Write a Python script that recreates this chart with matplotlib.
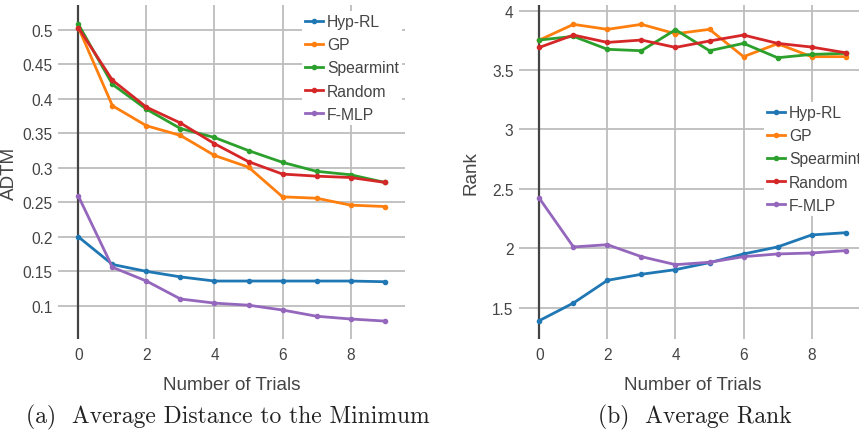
import matplotlib
matplotlib.use("Agg")
import matplotlib.pyplot as plt

trials = list(range(10))
series_names = ["Hyp-RL", "GP", "Spearmint", "Random", "F-MLP"]
colors = ["#1f77b4", "#ff7f0e", "#2ca02c", "#d62728", "#9467bd"]

adtm_hyprl = [0.200, 0.160, 0.150, 0.142, 0.136, 0.136, 0.136, 0.136, 0.136, 0.135]
adtm_gp = [0.503, 0.390, 0.361, 0.347, 0.318, 0.301, 0.258, 0.256, 0.246, 0.244]
adtm_spearmint = [0.508, 0.421, 0.385, 0.357, 0.344, 0.325, 0.308, 0.295, 0.290, 0.279]
adtm_random = [0.503, 0.427, 0.388, 0.365, 0.335, 0.309, 0.291, 0.288, 0.286, 0.279]
adtm_fmlp = [0.259, 0.156, 0.136, 0.110, 0.104, 0.101, 0.094, 0.085, 0.081, 0.078]

rank_hyprl = [1.391, 1.539, 1.730, 1.781, 1.820, 1.879, 1.952, 2.011, 2.112, 2.131]
rank_gp = [3.753, 3.885, 3.843, 3.885, 3.806, 3.843, 3.613, 3.722, 3.613, 3.613]
rank_spearmint = [3.753, 3.784, 3.675, 3.663, 3.840, 3.663, 3.725, 3.604, 3.632, 3.641]
rank_random = [3.691, 3.795, 3.733, 3.753, 3.691, 3.745, 3.795, 3.725, 3.694, 3.646]
rank_fmlp = [2.420, 2.011, 2.030, 1.929, 1.862, 1.882, 1.929, 1.952, 1.960, 1.980]

adtm_yticks = [0.1, 0.15, 0.2, 0.25, 0.3, 0.35, 0.4, 0.45, 0.5]
adtm_yticklabels = ["0.1", "0.15", "0.2", "0.25", "0.3", "0.35", "0.4", "0.45", "0.5"]
rank_yticks = [1.5, 2, 2.5, 3, 3.5, 4]
rank_yticklabels = ["1.5", "2", "2.5", "3", "3.5", "4"]
xticks = [0, 2, 4, 6, 8]

plt.rcParams['font.family'] = ['Liberation Sans', 'DejaVu Sans']
txt = "#444444"

W, H = 859, 431
fig = plt.figure(figsize=(W / 100, H / 100), dpi=100)

def make_ax(left_px, data, yticks, ylabels, ylim, ylabel):
    ax = fig.add_axes([left_px / W, (H - 340) / H, 347 / W, 334 / H])
    for s in ax.spines.values():
        s.set_visible(False)
    ax.set_xlim(-0.6, 9.6)
    ax.set_ylim(*ylim)
    ax.set_xticks(xticks)
    ax.set_yticks(yticks)
    ax.set_yticklabels(ylabels)
    ax.tick_params(axis='y', length=0, labelsize=11.2, colors=txt, pad=4)
    ax.tick_params(axis='x', length=0, labelsize=11.2, colors=txt, pad=6)
    ax.grid(True, color="#bdbdbd", lw=1.3)
    ax.set_axisbelow(True)
    ax.axvline(0, color="#444444", lw=1.6, zorder=1.5)
    for name, c, vals in zip(series_names, colors, data):
        ax.plot(trials, vals, color=c, lw=2, marker='o', ms=3, label=name, zorder=3)
    ax.set_xlabel("Number of Trials", fontsize=13.6, color=txt, labelpad=10)
    ax.set_ylabel(ylabel, fontsize=13.6, color=txt)
    ax.yaxis.set_label_coords(-0.115, 0.5)
    return ax

ax1 = make_ax(58, [adtm_hyprl, adtm_gp, adtm_spearmint, adtm_random, adtm_fmlp],
              adtm_yticks, adtm_yticklabels, (0.052, 0.536), "ADTM")
ax2 = make_ax(519, [rank_hyprl, rank_gp, rank_spearmint, rank_random, rank_fmlp],
              rank_yticks, rank_yticklabels, (1.236, 4.048), "Rank")

def style_legend(ax, anchor):
    leg = ax.legend(loc='upper left', bbox_to_anchor=anchor, frameon=True,
                    fontsize=11.3, handlelength=1.15, handletextpad=0.25, labelspacing=0.52,
                    borderpad=0.2, borderaxespad=0)
    fr = leg.get_frame()
    fr.set_edgecolor('none')
    fr.set_facecolor('white')
    fr.set_alpha(1)
    fr.set_boxstyle('square', pad=0)
    for t in leg.get_texts():
        t.set_color(txt)
    return leg

style_legend(ax1, (0.703, 0.982))
style_legend(ax2, (0.706, 1 - 97 / 334))

fig.text(228 / W, 1 - 417 / H, "(a)  Average Distance to the Minimum", ha='center', va='center',
         fontsize=17, family=['cmr10', 'DejaVu Serif'], color='#222222')
fig.text(695 / W, 1 - 417 / H, "(b)  Average Rank", ha='center', va='center',
         fontsize=17, family=['cmr10', 'DejaVu Serif'], color='#222222')

fig.savefig("out.png", dpi=100)
